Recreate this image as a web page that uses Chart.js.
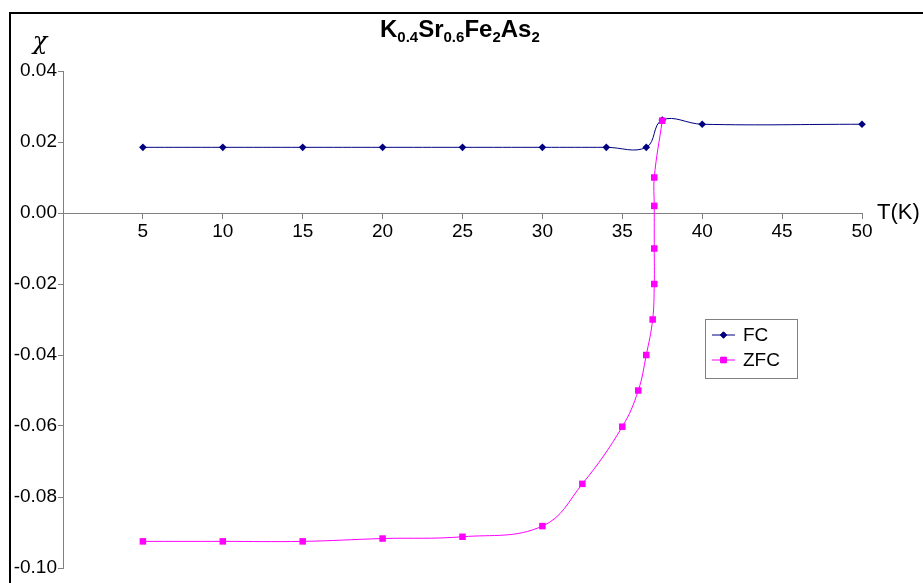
<!DOCTYPE html>
<html>
<head>
<meta charset="utf-8">
<script src="https://cdn.jsdelivr.net/npm/chart.js@4.4.1/dist/chart.umd.min.js"></script>
<style>
  html, body { margin: 0; padding: 0; background: #fff; }
  #wrap { width: 923px; height: 583px; }
</style>
</head>
<body>
<div id="wrap"><canvas id="chart1"></canvas></div>
<script>
// data
var fcT    = [5, 10, 15, 20, 25, 30, 34, 36.5, 37.5, 40, 50];
var fcChi  = [0.0185, 0.0185, 0.0185, 0.0185, 0.0185, 0.0185, 0.0185, 0.0185, 0.0262, 0.025, 0.025];
var zfcT   = [5, 10, 15, 20, 25, 30, 32.5, 35, 36, 36.5, 36.9, 37, 37, 37, 37, 37.5];
var zfcChi = [-0.0925, -0.0925, -0.0925, -0.0917, -0.0912, -0.0882, -0.0763, -0.0602, -0.050, -0.040, -0.030, -0.020, -0.010, 0.002, 0.010, 0.026];
var xTicks = [5, 10, 15, 20, 25, 30, 35, 40, 45, 50];

function pts(xs, ys) {
    return xs.map(function(x, i) { return { x: x, y: ys[i] }; });
}

var FONT = '"Liberation Sans", Arial, sans-serif';

var decor = {
    id: 'decor',
    beforeDraw: function(chart) {
        var ctx = chart.ctx;
        ctx.save();
        ctx.fillStyle = '#fff';
        ctx.fillRect(0, 0, chart.width, chart.height);
        ctx.restore();
    },
    afterDraw: function(chart) {
        var ctx = chart.ctx;
        ctx.save();

        // frame
        ctx.strokeStyle = '#000';
        ctx.lineWidth = 2;
        ctx.beginPath();
        ctx.moveTo(10, 583);
        ctx.lineTo(10, 13);
        ctx.lineTo(923, 13);
        ctx.stroke();

        // title with subscripts
        var parts = [['K', 0], ['0.4', 1], ['Sr', 0], ['0.6', 1], ['Fe', 0], ['2', 1], ['As', 0], ['2', 1]];
        var x = 380;
        ctx.fillStyle = '#000';
        ctx.textBaseline = 'alphabetic';
        ctx.textAlign = 'left';
        parts.forEach(function(p) {
            ctx.font = p[1] ? 'bold 15px ' + FONT : 'bold 24px ' + FONT;
            ctx.fillText(p[0], x, p[1] ? 42 : 37);
            x += ctx.measureText(p[0]).width;
        });

        // axis names
        ctx.font = 'italic 24px "DejaVu Serif", serif';
        ctx.textAlign = 'center';
        ctx.textBaseline = 'middle';
        ctx.fillText('\u03C7', 40, 43);
        ctx.font = '22px ' + FONT;
        ctx.textAlign = 'left';
        ctx.fillText('T(K)', 877, 213);

        // legend
        ctx.strokeStyle = '#808080';
        ctx.lineWidth = 1;
        ctx.strokeRect(705.5, 319.5, 92, 59);
        var rows = [[chart.data.datasets[1], 335], [chart.data.datasets[0], 360]];
        rows.forEach(function(r) {
            var ds = r[0], y = r[1];
            ctx.strokeStyle = ds.borderColor;
            ctx.beginPath();
            ctx.moveTo(712, y);
            ctx.lineTo(735, y);
            ctx.stroke();
            Chart.helpers.drawPoint(ctx, {
                pointStyle: ds.pointStyle,
                radius: ds.pointRadius - 0.6,
                borderWidth: 1
            }, 723.5, y);
            ctx.fillStyle = ds.backgroundColor;
            ctx.fill();
            ctx.fillStyle = '#000';
            ctx.font = '19px ' + FONT;
            ctx.textBaseline = 'middle';
            ctx.fillText(ds.label, 743, y + 1);
        });
        ctx.restore();
    }
};

var ctx = document.getElementById('chart1').getContext('2d');
var myChart = new Chart(ctx, {
    type: 'scatter',
    data: {
        datasets: [{
            label: 'ZFC',
            data: pts(zfcT, zfcChi),
            showLine: true,
            clip: false,
            borderColor: '#ff00ff',
            backgroundColor: '#ff00ff',
            borderWidth: 1,
            pointStyle: 'rect',
            pointRadius: 4.6,
            pointBorderWidth: 0,
            tension: 0.4
        },
        {
            label: 'FC',
            data: pts(fcT, fcChi),
            showLine: true,
            clip: false,
            borderColor: '#000080',
            backgroundColor: '#000080',
            borderWidth: 1,
            pointStyle: 'rectRot',
            pointRadius: 3.8,
            pointBorderWidth: 0,
            tension: 0.4
        }]
    },
    options: {
        responsive: true,
        maintainAspectRatio: false,
        animation: false,
        layout: {
            padding: { top: 71, right: 61, bottom: 15, left: 0 }
        },
        plugins: {
            legend: { display: false },
            tooltip: { enabled: false },
            title: { display: false }
        },
        scales: {
            x: {
                type: 'linear',
                position: { y: 0 },
                min: 0,
                max: 50,
                afterBuildTicks: function(scale) {
                    scale.ticks = xTicks.map(function(v) { return { value: v }; });
                },
                grid: {
                    drawOnChartArea: false,
                    color: '#808080',
                    tickLength: 5
                },
                border: { color: '#808080', width: 1 },
                ticks: {
                    color: '#000',
                    padding: 2,
                    maxRotation: 0,
                    font: { family: FONT, size: 19 }
                }
            },
            y: {
                min: -0.10,
                max: 0.04,
                afterFit: function(scale) { scale.width = 63; },
                grid: {
                    drawOnChartArea: false,
                    color: '#808080',
                    tickLength: 5
                },
                border: { color: '#808080', width: 1 },
                ticks: {
                    stepSize: 0.02,
                    color: '#000',
                    padding: 1,
                    font: { family: FONT, size: 19 },
                    callback: function(v) { return v.toFixed(2); }
                }
            }
        }
    },
    plugins: [decor]
});
</script>
</body>
</html>
